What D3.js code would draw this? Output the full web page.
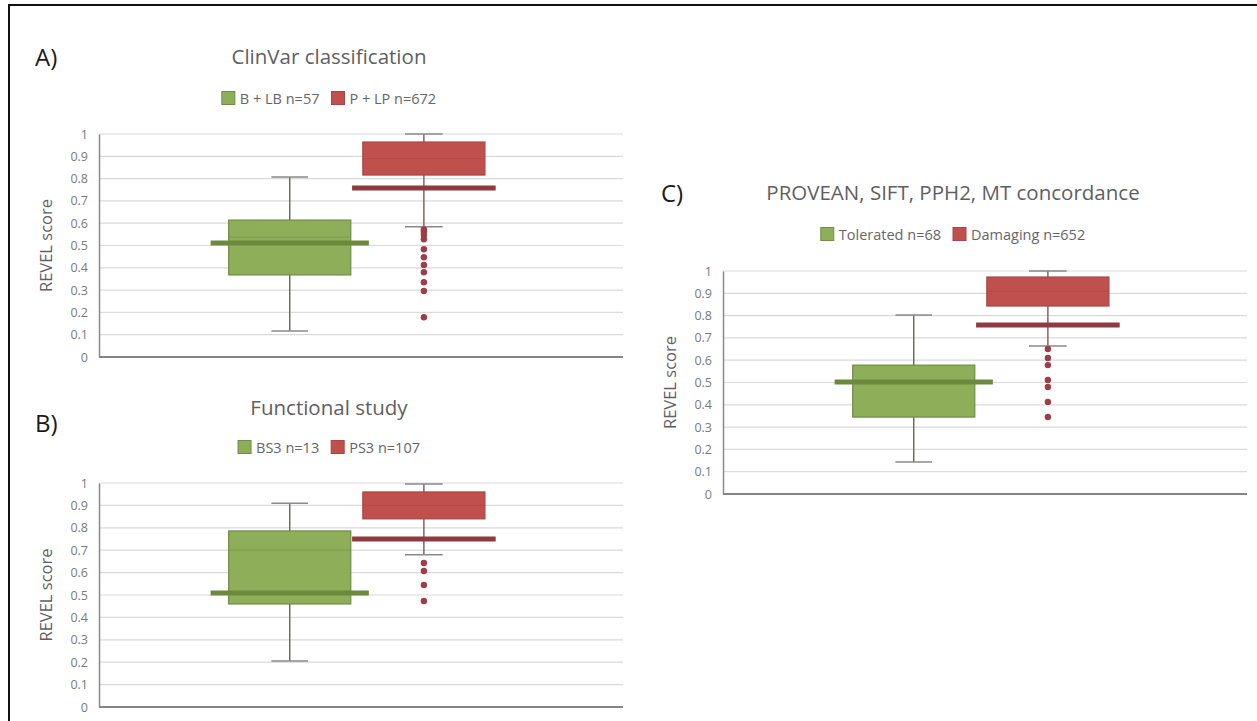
<!DOCTYPE html>
<html>
<head>
<meta charset="utf-8">
<script src="https://cdn.jsdelivr.net/npm/d3@7"></script>
<style>
  body { margin: 0; background: #fff; }
  svg { display: block; font-family: "Open Sans", "Liberation Sans", sans-serif; }
</style>
</head>
<body>
<script>
// Textos de cada painel
const panelLetters = ['A)', 'B)', 'C)'];
const titles = ['ClinVar classification', 'Functional study', 'PROVEAN, SIFT, PPH2, MT concordance'];
const greenLabels = ['B + LB n=57', 'BS3 n=13', 'Tolerated n=68'];
const redLabels = ['P + LP n=672', 'PS3 n=107', 'Damaging n=652'];
const yTicks = [0, 0.1, 0.2, 0.3, 0.4, 0.5, 0.6, 0.7, 0.8, 0.9, 1];

// Caixa verde (B+LB, BS3, Tolerated)
const greenMin = [0.117, 0.205, 0.143];
const greenQ1 = [0.368, 0.46, 0.345];
const greenMedian = [0.538, 0.70, 0.50];
const greenQ3 = [0.614, 0.786, 0.578];
const greenMax = [0.807, 0.91, 0.803];
const greenLine = [0.511, 0.509, 0.502];

// Caixa vermelha (P+LP, PS3, Damaging)
const redMin = [0.584, 0.68, 0.664];
const redQ1 = [0.816, 0.84, 0.843];
const redMedian = [0.89, 0.90, 0.91];
const redQ3 = [0.964, 0.96, 0.973];
const redMax = [1.0, 0.996, 1.0];
const redLine = [0.758, 0.75, 0.758];
const redOutliers = [
  [0.572, 0.562, 0.547, 0.528, 0.483, 0.447, 0.413, 0.38, 0.335, 0.296, 0.178],
  [0.643, 0.607, 0.545, 0.473],
  [0.65, 0.61, 0.578, 0.511, 0.48, 0.413, 0.345]
];

// Posição de cada painel na página
const layout = [
  { left: 99, right: 623, top: 134, bottom: 357, titleX: 329, titleY: 64, legY: 98, letterX: 35, letterY: 66 },
  { left: 99, right: 623, top: 483, bottom: 707, titleX: 329, titleY: 415, legY: 447, letterX: 35, letterY: 432 },
  { left: 723, right: 1247, top: 271, bottom: 494, titleX: 953, titleY: 200, legY: 234, letterX: 661, letterY: 202 }
];

const svg = d3.select('body').append('svg')
  .attr('width', 1257)
  .attr('height', 721);

// Moldura
svg.append('rect')
  .attr('x', 9).attr('y', 5)
  .attr('width', 1260).attr('height', 730)
  .attr('fill', 'none')
  .attr('stroke', '#111')
  .attr('stroke-width', 2);

const green = { fill: '#8eae5a', stroke: '#6f8c45', line: '#6d8a3c', whisker: '#6a6f5c' };
const red = { fill: '#c0504d', stroke: '#a94543', line: '#8f3a3e', whisker: '#7d6363', dot: '#9c3d48' };

layout.forEach((L, i) => {
  const g = svg.append('g');

  const y = d3.scaleLinear().domain([0, 1]).range([L.bottom, L.top]);
  const x = d3.scaleLinear().domain([0, 1]).range([L.left, L.right]);

  // Linhas de grade
  g.selectAll('.grid')
    .data(yTicks.filter(d => d > 0))
    .enter().append('line')
    .attr('x1', L.left).attr('x2', L.right)
    .attr('y1', d => y(d)).attr('y2', d => y(d))
    .attr('stroke', '#dadada')
    .attr('stroke-width', 1.2);

  // Eixo Y
  const yAxis = g.append('g')
    .attr('transform', `translate(${L.left},0)`)
    .call(d3.axisLeft(y).tickValues(yTicks).tickSize(0).tickPadding(11).tickFormat(d3.format('~g')));
  yAxis.select('.domain').attr('stroke', '#8a8a8a').attr('stroke-width', 1.5);
  yAxis.selectAll('text').attr('fill', '#7a7a7a').attr('font-size', 12.5).attr('font-family', 'Open Sans');

  // Eixo X (só a linha)
  g.append('line')
    .attr('x1', L.left).attr('x2', L.right)
    .attr('y1', L.bottom).attr('y2', L.bottom)
    .attr('stroke', '#858585')
    .attr('stroke-width', 2);

  // Título do eixo Y
  g.append('text')
    .attr('transform', `translate(${L.left - 54},${(L.top + L.bottom) / 2}) rotate(-90)`)
    .attr('text-anchor', 'middle')
    .attr('dominant-baseline', 'central')
    .attr('fill', '#5f5f5f')
    .attr('font-size', 16.5)
    .text('REVEL score');

  // Letra do painel e título
  g.append('text')
    .attr('x', L.letterX).attr('y', L.letterY)
    .attr('font-size', 24)
    .attr('fill', '#1a1a1a')
    .text(panelLetters[i]);

  g.append('text')
    .attr('x', L.titleX).attr('y', L.titleY)
    .attr('text-anchor', 'middle')
    .attr('font-size', 20.5)
    .attr('fill', '#5f5f5f')
    .text(titles[i]);

  // Legenda
  const leg = g.append('g');
  const items = [
    { label: greenLabels[i], c: green },
    { label: redLabels[i], c: red }
  ];
  let cx = 0;
  items.forEach(it => {
    const gi = leg.append('g').attr('transform', `translate(${cx},0)`);
    gi.append('rect')
      .attr('x', 0).attr('y', -6.5)
      .attr('width', 13).attr('height', 13)
      .attr('fill', it.c.fill)
      .attr('stroke', it.c.stroke);
    const t = gi.append('text')
      .attr('x', 18).attr('y', 0)
      .attr('dominant-baseline', 'central')
      .attr('font-size', 14.5)
      .attr('fill', '#666')
      .text(it.label);
    cx += 18 + t.node().getComputedTextLength() + 12;
  });
  const legW = cx - 12;
  leg.attr('transform', `translate(${L.titleX - legW / 2},${L.legY})`);

  // Caixas
  const boxes = [
    { c: green, center: 0.364, half: 0.1165, lineHalf: 0.151, capHalf: 0.035,
      min: greenMin[i], q1: greenQ1[i], med: greenMedian[i], q3: greenQ3[i], max: greenMax[i], line: greenLine[i], out: [] },
    { c: red, center: 0.62, half: 0.1165, lineHalf: 0.137, capHalf: 0.036,
      min: redMin[i], q1: redQ1[i], med: redMedian[i], q3: redQ3[i], max: redMax[i], line: redLine[i], out: redOutliers[i] }
  ];

  boxes.forEach(b => {
    const xc = x(b.center);
    const bw = x(b.half) - x(0);
    const cw = x(b.capHalf) - x(0);
    const lw = x(b.lineHalf) - x(0);

    // Bigodes
    g.append('line')
      .attr('x1', xc).attr('x2', xc)
      .attr('y1', y(b.max)).attr('y2', y(b.min))
      .attr('stroke', b.c.whisker).attr('stroke-width', 1.5);
    [b.min, b.max].forEach(v => {
      g.append('line')
        .attr('x1', xc - cw).attr('x2', xc + cw)
        .attr('y1', y(v)).attr('y2', y(v))
        .attr('stroke', '#8a8a8a').attr('stroke-width', 1.5);
    });

    // Caixa
    g.append('rect')
      .attr('x', xc - bw)
      .attr('y', y(b.q3))
      .attr('width', bw * 2)
      .attr('height', y(b.q1) - y(b.q3))
      .attr('fill', b.c.fill)
      .attr('stroke', b.c.stroke)
      .attr('stroke-width', 1.2);

    // Mediana
    g.append('line')
      .attr('x1', xc - bw).attr('x2', xc + bw)
      .attr('y1', y(b.med)).attr('y2', y(b.med))
      .attr('stroke', b.c.stroke).attr('stroke-width', 1.2)
      .attr('opacity', 0.45);

    // Linha grossa de referência
    g.append('line')
      .attr('x1', xc - lw).attr('x2', xc + lw)
      .attr('y1', y(b.line)).attr('y2', y(b.line))
      .attr('stroke', b.c.line).attr('stroke-width', 5);

    // Outliers
    g.selectAll(null)
      .data(b.out)
      .enter().append('circle')
      .attr('cx', xc)
      .attr('cy', d => y(d))
      .attr('r', 3.2)
      .attr('fill', b.c.dot);
  });
});
</script>
</body>
</html>
